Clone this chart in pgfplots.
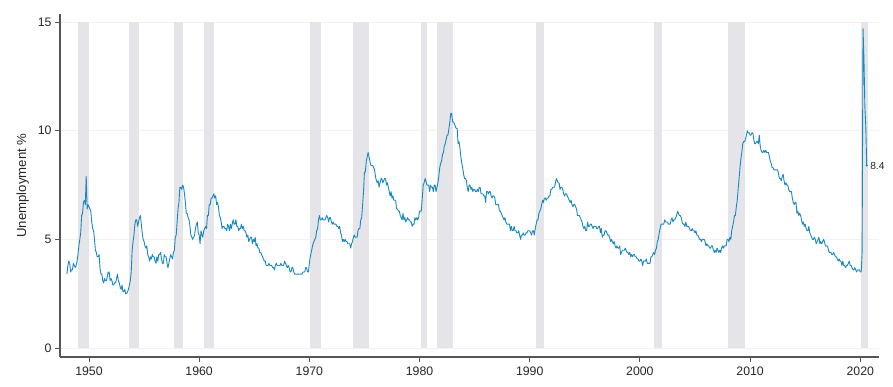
\documentclass[border=0pt]{standalone}
\usepackage{pgfplots}
\pgfplotsset{compat=1.18}
\usepackage{pgfplotstable}
\usepackage{fontspec}
\setmainfont{Liberation Sans}
\definecolor{lineblue}{RGB}{26,136,190}
\definecolor{recgray}{RGB}{228,228,233}
\definecolor{axgray}{RGB}{85,85,85}
\definecolor{gridc}{RGB}{242,242,246}

\pgfplotstableread[row sep=\\]{
u\\
3.4\\3.8\\4.0\\3.9\\3.5\\3.6\\3.6\\3.9\\3.8\\3.7\\3.8\\4.0\\
4.3\\4.7\\5.0\\5.3\\6.1\\6.2\\6.7\\6.8\\6.6\\7.9\\6.4\\6.6\\
6.5\\6.4\\6.3\\5.8\\5.5\\5.4\\5.0\\4.5\\4.4\\4.2\\4.2\\4.3\\
3.7\\3.4\\3.4\\3.1\\3.0\\3.2\\3.1\\3.1\\3.3\\3.5\\3.5\\3.1\\
3.2\\3.1\\2.9\\2.9\\3.0\\3.0\\3.2\\3.4\\3.1\\3.0\\2.8\\2.7\\
2.9\\2.6\\2.6\\2.7\\2.5\\2.5\\2.6\\2.7\\2.9\\3.1\\3.5\\4.5\\
4.9\\5.2\\5.7\\5.9\\5.9\\5.6\\5.8\\6.0\\6.1\\5.7\\5.3\\5.0\\
4.9\\4.7\\4.6\\4.7\\4.3\\4.2\\4.0\\4.2\\4.1\\4.3\\4.2\\4.2\\
4.0\\3.9\\4.2\\4.0\\4.3\\4.3\\4.4\\4.1\\3.9\\3.9\\4.3\\4.2\\
4.2\\3.9\\3.7\\3.9\\4.1\\4.3\\4.2\\4.1\\4.4\\4.5\\5.1\\5.2\\
5.8\\6.4\\6.7\\7.4\\7.4\\7.3\\7.5\\7.4\\7.1\\6.7\\6.2\\6.2\\
6.0\\5.9\\5.6\\5.2\\5.1\\5.0\\5.1\\5.2\\5.5\\5.7\\5.8\\5.3\\
5.2\\4.8\\5.4\\5.2\\5.1\\5.4\\5.5\\5.6\\5.5\\6.1\\6.1\\6.6\\
6.6\\6.9\\6.9\\7.0\\7.1\\6.9\\7.0\\6.6\\6.7\\6.5\\6.1\\6.0\\
5.8\\5.5\\5.6\\5.6\\5.5\\5.5\\5.4\\5.7\\5.6\\5.4\\5.7\\5.5\\
5.7\\5.9\\5.7\\5.7\\5.9\\5.6\\5.6\\5.4\\5.5\\5.5\\5.7\\5.5\\
5.6\\5.4\\5.4\\5.3\\5.1\\5.2\\4.9\\5.0\\5.1\\5.1\\4.8\\5.0\\
4.9\\5.1\\4.7\\4.8\\4.6\\4.6\\4.4\\4.4\\4.3\\4.2\\4.1\\4.0\\
4.0\\3.8\\3.8\\3.8\\3.9\\3.8\\3.8\\3.8\\3.7\\3.7\\3.6\\3.8\\
3.9\\3.8\\3.8\\3.8\\3.8\\3.9\\3.8\\3.8\\3.8\\4.0\\3.9\\3.8\\
3.7\\3.8\\3.7\\3.5\\3.5\\3.7\\3.7\\3.5\\3.4\\3.4\\3.4\\3.4\\
3.4\\3.4\\3.4\\3.4\\3.4\\3.5\\3.5\\3.5\\3.7\\3.7\\3.5\\3.5\\
3.9\\4.2\\4.4\\4.6\\4.8\\4.9\\5.0\\5.1\\5.4\\5.5\\5.9\\6.1\\
5.9\\5.9\\6.0\\5.9\\5.9\\5.9\\6.0\\6.1\\6.0\\5.8\\6.0\\6.0\\
5.8\\5.7\\5.8\\5.7\\5.7\\5.7\\5.6\\5.6\\5.5\\5.6\\5.3\\5.2\\
4.9\\5.0\\4.9\\5.0\\4.9\\4.9\\4.8\\4.8\\4.8\\4.6\\4.8\\4.9\\
5.1\\5.2\\5.1\\5.1\\5.1\\5.4\\5.5\\5.5\\5.9\\6.0\\6.6\\7.2\\
8.1\\8.1\\8.6\\8.8\\9.0\\8.8\\8.6\\8.4\\8.4\\8.4\\8.3\\8.2\\
7.9\\7.7\\7.6\\7.7\\7.4\\7.6\\7.8\\7.8\\7.6\\7.7\\7.8\\7.8\\
7.5\\7.6\\7.4\\7.2\\7.0\\7.2\\6.9\\7.0\\6.8\\6.8\\6.8\\6.4\\
6.4\\6.3\\6.3\\6.1\\6.0\\5.9\\6.2\\5.9\\6.0\\5.8\\5.9\\6.0\\
5.9\\5.9\\5.8\\5.8\\5.6\\5.7\\5.7\\6.0\\5.9\\6.0\\5.9\\6.0\\
6.3\\6.3\\6.3\\6.9\\7.5\\7.6\\7.8\\7.7\\7.5\\7.5\\7.5\\7.2\\
7.5\\7.4\\7.4\\7.2\\7.5\\7.5\\7.2\\7.4\\7.6\\7.9\\8.3\\8.5\\
8.6\\8.9\\9.0\\9.3\\9.4\\9.6\\9.8\\9.8\\10.1\\10.4\\10.8\\10.8\\
10.4\\10.4\\10.3\\10.2\\10.1\\10.1\\9.4\\9.5\\9.2\\8.8\\8.5\\8.3\\
8.0\\7.8\\7.8\\7.7\\7.4\\7.2\\7.5\\7.5\\7.3\\7.4\\7.2\\7.3\\
7.3\\7.2\\7.2\\7.3\\7.2\\7.4\\7.4\\7.1\\7.1\\7.1\\7.0\\7.0\\
6.7\\7.2\\7.2\\7.1\\7.2\\7.2\\7.0\\6.9\\7.0\\7.0\\6.9\\6.6\\
6.6\\6.6\\6.6\\6.3\\6.3\\6.2\\6.1\\6.0\\5.9\\6.0\\5.8\\5.7\\
5.7\\5.7\\5.7\\5.4\\5.6\\5.4\\5.4\\5.6\\5.4\\5.4\\5.3\\5.3\\
5.4\\5.2\\5.0\\5.2\\5.2\\5.3\\5.2\\5.2\\5.3\\5.3\\5.4\\5.4\\
5.4\\5.3\\5.2\\5.4\\5.4\\5.2\\5.5\\5.7\\5.9\\5.9\\6.2\\6.3\\
6.4\\6.6\\6.8\\6.7\\6.9\\6.9\\6.8\\6.9\\6.9\\7.0\\7.0\\7.3\\
7.3\\7.4\\7.4\\7.4\\7.6\\7.8\\7.7\\7.6\\7.6\\7.3\\7.4\\7.4\\
7.3\\7.1\\7.0\\7.1\\7.1\\7.0\\6.9\\6.8\\6.7\\6.8\\6.6\\6.5\\
6.6\\6.6\\6.5\\6.4\\6.1\\6.1\\6.1\\6.0\\5.9\\5.8\\5.6\\5.5\\
5.6\\5.4\\5.4\\5.8\\5.6\\5.6\\5.7\\5.7\\5.6\\5.5\\5.6\\5.6\\
5.6\\5.5\\5.5\\5.6\\5.6\\5.3\\5.5\\5.1\\5.2\\5.2\\5.4\\5.4\\
5.3\\5.2\\5.2\\5.1\\4.9\\5.0\\4.9\\4.8\\4.9\\4.7\\4.6\\4.7\\
4.6\\4.6\\4.7\\4.3\\4.4\\4.5\\4.5\\4.5\\4.6\\4.5\\4.4\\4.4\\
4.3\\4.4\\4.2\\4.3\\4.2\\4.3\\4.3\\4.2\\4.2\\4.1\\4.1\\4.0\\
4.0\\4.1\\4.0\\3.8\\4.0\\4.0\\4.0\\4.1\\3.9\\3.9\\3.9\\3.9\\
4.2\\4.2\\4.3\\4.4\\4.3\\4.5\\4.6\\4.9\\5.0\\5.3\\5.5\\5.7\\
5.7\\5.7\\5.7\\5.9\\5.8\\5.8\\5.8\\5.7\\5.7\\5.7\\5.9\\6.0\\
5.8\\5.9\\5.9\\6.0\\6.1\\6.3\\6.2\\6.1\\6.1\\6.0\\5.8\\5.7\\
5.7\\5.6\\5.8\\5.6\\5.6\\5.6\\5.5\\5.4\\5.4\\5.5\\5.4\\5.4\\
5.3\\5.4\\5.2\\5.2\\5.1\\5.0\\5.0\\4.9\\5.0\\5.0\\5.0\\4.9\\
4.7\\4.8\\4.7\\4.7\\4.6\\4.6\\4.7\\4.7\\4.5\\4.4\\4.5\\4.4\\
4.6\\4.5\\4.4\\4.5\\4.4\\4.6\\4.7\\4.6\\4.7\\4.7\\4.7\\5.0\\
5.0\\4.9\\5.1\\5.0\\5.4\\5.6\\5.8\\6.1\\6.1\\6.5\\6.8\\7.3\\
7.8\\8.3\\8.7\\9.0\\9.4\\9.5\\9.5\\9.6\\9.8\\10.0\\9.9\\9.9\\
9.8\\9.8\\9.9\\9.9\\9.6\\9.4\\9.4\\9.5\\9.5\\9.4\\9.8\\9.3\\
9.1\\9.0\\9.0\\9.1\\9.0\\9.1\\9.0\\9.0\\9.0\\8.8\\8.6\\8.5\\
8.3\\8.3\\8.2\\8.2\\8.2\\8.2\\8.2\\8.0\\7.8\\7.8\\7.7\\7.9\\
8.0\\7.7\\7.5\\7.6\\7.5\\7.5\\7.3\\7.2\\7.2\\7.2\\6.9\\6.7\\
6.6\\6.7\\6.7\\6.2\\6.3\\6.1\\6.2\\6.1\\5.9\\5.7\\5.8\\5.6\\
5.7\\5.5\\5.4\\5.4\\5.6\\5.3\\5.2\\5.1\\5.0\\5.0\\5.1\\5.0\\
4.8\\4.9\\5.0\\5.1\\4.8\\4.9\\4.8\\4.9\\5.0\\4.9\\4.7\\4.7\\
4.7\\4.6\\4.4\\4.4\\4.4\\4.3\\4.3\\4.4\\4.3\\4.2\\4.2\\4.1\\
4.0\\4.1\\4.0\\4.0\\3.8\\4.0\\3.8\\3.8\\3.7\\3.8\\3.8\\3.9\\
4.0\\3.8\\3.8\\3.7\\3.6\\3.6\\3.7\\3.6\\3.5\\3.6\\3.6\\3.6\\
3.5\\3.5\\4.4\\14.7\\13.3\\11.1\\10.2\\8.4\\
}\unrate

\begin{document}
\begin{tikzpicture}
\begin{axis}[
  scale only axis,
  width=819pt, height=343pt,
  xmin=1947.37, xmax=2021.7,
  ymin=-0.41, ymax=15.37,
  axis x line=bottom, axis y line=left,
  axis line style={-, draw=axgray, line width=1.3pt},
  xtick={1950,1960,1970,1980,1990,2000,2010,2020},
  ytick={0,5,10,15},
  tick align=outside,
  major tick length=5pt,
  tick style={draw=axgray, line width=0.9pt},
  ymajorgrids,
  grid style={draw=gridc, line width=0.7pt},
  /pgf/number format/1000 sep={},
  /pgf/number format/assume math mode=true,
  tick label style={font=\fontsize{12.3}{14}\selectfont, text=black!85},
  xticklabel style={yshift=-1pt},
  ylabel={Unemployment \%},
  ylabel style={font=\fontsize{13.2}{15}\selectfont, text=black!85, yshift=2pt},
  clip=false,
]
% recession bars
\addplot[fill=recgray, draw=none] coordinates {(1948.97,0) (1948.97,15) (1950.0,15) (1950.0,0)} -- cycle;
\addplot[fill=recgray, draw=none] coordinates {(1953.66,0) (1953.66,15) (1954.57,15) (1954.57,0)} -- cycle;
\addplot[fill=recgray, draw=none] coordinates {(1957.75,0) (1957.75,15) (1958.51,15) (1958.51,0)} -- cycle;
\addplot[fill=recgray, draw=none] coordinates {(1960.44,0) (1960.44,15) (1961.32,15) (1961.32,0)} -- cycle;
\addplot[fill=recgray, draw=none] coordinates {(1970.07,0) (1970.07,15) (1971.04,15) (1971.04,0)} -- cycle;
\addplot[fill=recgray, draw=none] coordinates {(1974.0,0) (1974.0,15) (1975.4,15) (1975.4,0)} -- cycle;
\addplot[fill=recgray, draw=none] coordinates {(1980.1,0) (1980.1,15) (1980.7,15) (1980.7,0)} -- cycle;
\addplot[fill=recgray, draw=none] coordinates {(1981.6,0) (1981.6,15) (1983.0,15) (1983.0,0)} -- cycle;
\addplot[fill=recgray, draw=none] coordinates {(1990.6,0) (1990.6,15) (1991.34,15) (1991.34,0)} -- cycle;
\addplot[fill=recgray, draw=none] coordinates {(2001.24,0) (2001.24,15) (2002.0,15) (2002.0,0)} -- cycle;
\addplot[fill=recgray, draw=none] coordinates {(2007.95,0) (2007.95,15) (2009.56,15) (2009.56,0)} -- cycle;
\addplot[fill=recgray, draw=none] coordinates {(2020.05,0) (2020.05,15) (2020.72,15) (2020.72,0)} -- cycle;
% unemployment series
\addplot[lineblue, line width=0.9pt, line join=round, no marks]
  table[x expr=1948+\coordindex/12, y=u] {\unrate};
\addplot[lineblue, only marks, mark=*, mark size=0.9pt] coordinates {(2020.5833,8.4)};
\node[anchor=west, font=\fontsize{10.2}{12}\selectfont, text=black!85, inner sep=1pt] at (axis cs:2020.8,8.4) {8.4};
% bounding box to match reference margins
\path (rel axis cs:0,0) ++(-60pt,-30pt) coordinate (bbA);
\path (rel axis cs:1,1) ++(14pt,14pt) coordinate (bbB);
\end{axis}
\path (bbA) rectangle (bbB);
\end{tikzpicture}
\end{document}
